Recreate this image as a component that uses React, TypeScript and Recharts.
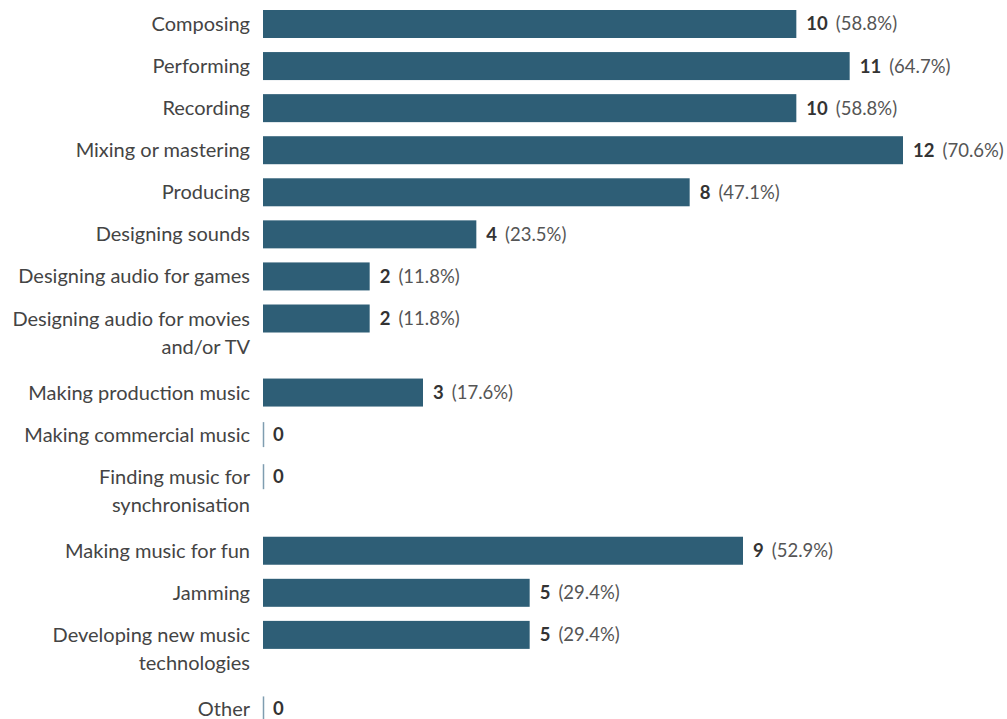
import React from 'react'
import { BarChart, Bar, XAxis, YAxis, LabelList } from 'recharts'

const categories = [
  'Composing',
  'Performing',
  'Recording',
  'Mixing or mastering',
  'Producing',
  'Designing sounds',
  'Designing audio for games',
  'Designing audio for movies\nand/or TV',
  'Making production music',
  'Making commercial music',
  'Finding music for\nsynchronisation',
  'Making music for fun',
  'Jamming',
  'Developing new music\ntechnologies',
  'Other',
]

const counts = [10, 11, 10, 12, 8, 4, 2, 2, 3, 0, 0, 9, 5, 5, 0]

const percents = [58.8, 64.7, 58.8, 70.6, 47.1, 23.5, 11.8, 11.8, 17.6, 0, 0, 52.9, 29.4, 29.4, 0]

const xTicks = [0, 12]

// extra room (in row units) taken by each wrapped label line
const EXTRA_LINE = 0.76

const BAR_COLOR = '#2e5e76'
const ZERO_COLOR = '#7f9db0'
const FONT = 'Lato, "Open Sans", sans-serif'

let cursor = 0
const data = categories.map((label, i) => {
  const lines = label.split('\n')
  const row = { label, lines, count: counts[i], pct: percents[i], pos: cursor }
  cursor += 1 + EXTRA_LINE * (lines.length - 1)
  return row
})
const lastPos = data[data.length - 1].pos
const positions = data.map((d) => d.pos)

function CategoryTick(props: any) {
  const { y, payload } = props
  const row = data.find((d) => Math.abs(d.pos - payload.value) < 1e-6)
  if (!row) return null
  return (
    <text x={250} y={y} textAnchor="end" fontFamily={FONT} fontSize={20} fill="#444">
      {row.lines.map((line, i) => (
        <tspan key={i} x={250} dy={i === 0 ? '0.35em' : 28}>
          {line}
        </tspan>
      ))}
    </text>
  )
}

function BarShape(props: any) {
  const { x, y, width, height } = props
  if (!width || width <= 0.5) {
    return (
      <line
        x1={x + 0.5}
        x2={x + 0.5}
        y1={y + 1.5}
        y2={y + height - 1.5}
        stroke={ZERO_COLOR}
        strokeWidth={1.5}
      />
    )
  }
  return <rect x={x} y={y} width={width} height={height} fill={BAR_COLOR} />
}

function ValueLabel(props: any) {
  const { x, y, width, height, index } = props
  const row = data[index]
  if (!row) return null
  const tx = Number(x) + Number(width || 0) + 10
  const ty = Number(y) + Number(height) / 2
  return (
    <text x={tx} y={ty} dy="0.35em" fontFamily={FONT} fontSize={18.5}>
      <tspan fontWeight="bold" fill="#333">
        {row.count}
      </tspan>
      {row.count > 0 && (
        <tspan dx={8} fill="#555">
          ({row.pct.toFixed(1)}%)
        </tspan>
      )}
    </text>
  )
}

export default function App() {
  return (
    <div
      style={{
        position: 'absolute',
        left: 0,
        top: 0,
        width: 1007,
        height: 719,
        overflow: 'hidden',
        background: '#fff',
      }}
    >
      <BarChart
        width={1007}
        height={730}
        data={data}
        layout="vertical"
        margin={{ top: 3, right: 104, bottom: 0, left: 0 }}
      >
        <XAxis type="number" domain={[0, 12]} ticks={xTicks} hide />
        <YAxis
          type="number"
          dataKey="pos"
          domain={[-0.5, lastPos + 0.5]}
          ticks={positions}
          interval={0}
          allowDecimals
          width={263}
          tickLine={false}
          axisLine={false}
          tick={<CategoryTick />}
        />
        <Bar
          dataKey="count"
          barSize={28}
          fill={BAR_COLOR}
          shape={<BarShape />}
          isAnimationActive={false}
        >
          <LabelList dataKey="count" content={<ValueLabel />} />
        </Bar>
      </BarChart>
    </div>
  )
}
